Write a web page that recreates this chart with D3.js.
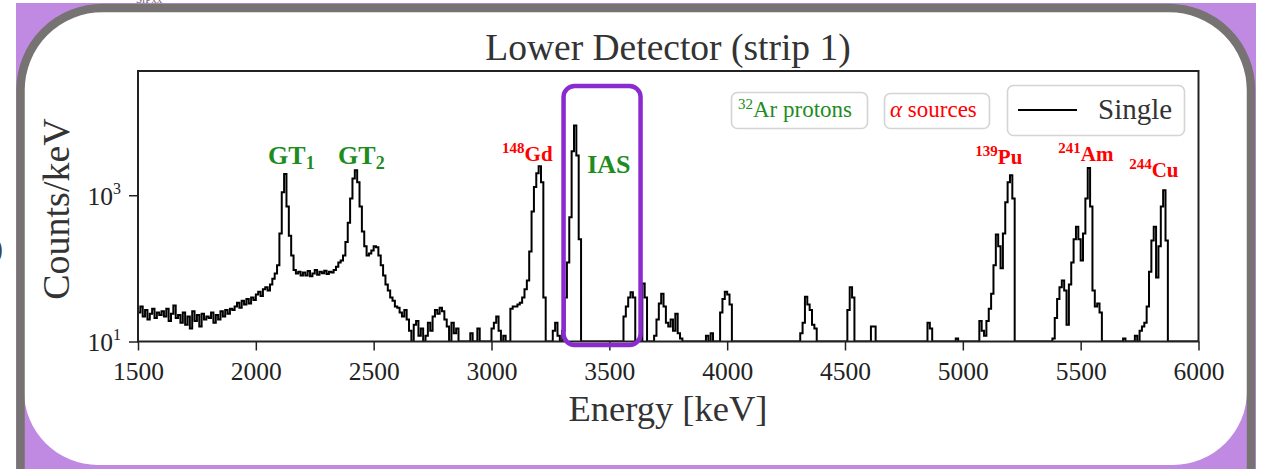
<!DOCTYPE html>
<html><head><meta charset="utf-8">
<script src="https://cdn.jsdelivr.net/npm/d3@7"></script>
<style>
html,body{margin:0;padding:0;background:#fff;overflow:hidden}
svg{display:block}
text{font-family:"Liberation Serif","Times New Roman",serif}
</style></head><body>
<svg id="chart" width="1263" height="469"></svg>
<script>
// ---------------- data ----------------
const binStart = 1500;   // keV, first bin edge
const binWidth = 10;     // keV
// counts per keV, one value per 10 keV bin (rows of 100 keV); values under 10 are 0
const counts = [
  25, 30, 22, 27, 20, 24, 28, 21, 25, 23,     // 1500
  26, 22, 28, 19, 24, 31, 21, 23, 18, 25,     // 1600
  17, 22, 15, 26, 19, 23, 16, 24, 20, 22,     // 1700
  21, 25, 18, 23, 20, 26, 22, 27, 24, 28,     // 1800
  27, 30, 34, 29, 36, 32, 38, 33, 40, 37,     // 1900
  44, 48, 42, 52, 55, 50, 60, 72, 85, 110,    // 2000
  300, 1100, 1950, 700, 280, 150, 95, 85, 90, 80, // 2100
  88, 80, 92, 78, 85, 95, 82, 90, 86, 93,     // 2200
  84, 90, 88, 95, 105, 120, 128, 150, 230, 420, // 2300
  900, 1700, 2200, 1500, 700, 320, 200, 150, 160, 175, // 2400
  200, 195, 150, 110, 80, 60, 50, 40, 36, 30, // 2500
  29, 25, 22, 27, 20, 14, 0, 17, 19, 12,      // 2600
  15, 0, 12, 18, 14, 22, 27, 24, 29, 26,      // 2700
  20, 16, 0, 18, 13, 15, 0, 0, 0, 0,          // 2800
  0, 13, 0, 0, 15, 0, 0, 0, 0, 0,             // 2900
  15, 18, 22, 14, 0, 12, 0, 0, 28, 30,        // 3000
  30, 32, 34, 40, 52, 68, 170, 600, 1300, 2000, // 3100
  2500, 1500, 40, 0, 0, 0, 14, 18, 12, 0,     // 3200
  14, 40, 120, 500, 4000, 9000, 3500, 250, 0, 0, // 3300
  0, 0, 0, 0, 0, 0, 0, 0, 0, 0,               // 3400
  0, 0, 0, 0, 0, 0, 22, 30, 40, 47,           // 3500
  40, 0, 0, 0, 62, 40, 0, 0, 0, 12,           // 3600
  20, 33, 45, 30, 18, 16, 20, 14, 24, 13,     // 3700
  11, 0, 0, 0, 0, 0, 0, 0, 0, 0,              // 3800
  0, 12, 0, 13, 0, 0, 0, 25, 38, 48,          // 3900
  44, 32, 0, 0, 0, 0, 0, 0, 0, 0,             // 4000
  0, 0, 0, 0, 0, 0, 0, 0, 0, 0,               // 4100
  0, 0, 0, 0, 0, 0, 0, 0, 0, 0,               // 4200
  0, 13, 18, 41, 32, 27, 17, 15, 0, 0,        // 4300
  0, 0, 0, 0, 0, 0, 0, 0, 0, 0,               // 4400
  0, 27, 55, 40, 0, 0, 0, 0, 0, 0,            // 4500
  0, 16, 16, 0, 0, 0, 0, 0, 0, 0,             // 4600
  0, 0, 0, 0, 0, 0, 0, 0, 0, 0,               // 4700
  0, 0, 0, 0, 0, 18, 15, 0, 0, 0,             // 4800
  0, 0, 0, 0, 0, 0, 0, 11, 0, 0,              // 4900
  0, 0, 0, 0, 0, 0, 0, 19, 14, 12,            // 5000
  19, 28, 45, 110, 290, 200, 100, 300, 800, 1500, // 5100
  1870, 900, 0, 0, 0, 0, 0, 0, 0, 0,          // 5200
  0, 0, 0, 0, 0, 0, 0, 0, 11, 21,             // 5300
  38, 55, 68, 50, 17, 60, 120, 250, 370, 250, // 5400
  128, 300, 900, 2350, 700, 50, 30, 33, 25, 0, // 5500
  0, 0, 0, 0, 0, 0, 0, 0, 11, 0,              // 5600
  0, 0, 0, 12, 0, 14, 16, 18, 30, 90,         // 5700
  240, 370, 75, 200, 700, 1170, 240, 0, 0, 0, // 5800
  0, 0, 0, 0, 0, 0, 0, 0, 0, 0                // 5900
];
const xTicks = [1500, 2000, 2500, 3000, 3500, 4000, 4500, 5000, 5500, 6000];
const yTicks = [10, 1000];
const yTickExponents = ["1", "3"];
const xDomain = [1500, 6000];
const yDomain = [10, 50000];

const titleText = "Lower Detector (strip 1)";
const xLabel = "Energy [keV]";
const yLabel = "Counts/keV";
const seriesName = "Single";

// peak annotations
const peakNames  = ["GT", "GT", "Gd", "IAS", "Pu", "Am", "Cu"];
const peakSup    = ["", "", "148", "", "139", "241", "244"];
const peakSub    = ["1", "2", "", "", "", "", ""];
const peakKind   = ["p", "p", "a", "p", "a", "a", "a"];   // p = 32Ar protons, a = alpha sources
const peakLabelE = [2052, 2349, 3045, 3406, 5053, 5405, 5706];
const peakLabelC = [2659, 2659, 2924, 2000, 2659, 2924, 1766];

// ---------------- drawing ----------------
const svg = d3.select("#chart");
const W = 1263, H = 469;
const green = "#1e8c1e", red = "#ff0000";

// frame / slide background
svg.append("rect").attr("x", 0).attr("y", 0).attr("width", W).attr("height", H).attr("fill", "#fff");
svg.append("text").attr("x", 136).attr("y", 3).attr("font-size", 11).attr("fill", "#666").text("SiPxx");
svg.append("text").attr("x", -7).attr("y", 258).attr("font-size", 30).attr("fill", "#444").text(")");
svg.append("rect").attr("x", 16).attr("y", 3).attr("width", 1240).attr("height", 466).attr("fill", "#c08ae3");
// white interior
(function(){
  const l = 24, r = 1247, t = 8, b = 465, rt = 80, rb = 74;
  const p = `M${l},${t+rt} A${rt},${rt} 0 0 1 ${l+rt},${t} H${r-rt} A${rt},${rt} 0 0 1 ${r},${t+rt} V${b-rb} A${rb},${rb} 0 0 1 ${r-rb},${b} H${l+rb} A${rb},${rb} 0 0 1 ${l},${b-rb} Z`;
  svg.append("path").attr("d", p).attr("fill", "#fff");
  const g = `M20.5,${H+2} V90 A82,82 0 0 1 102.5,8 H1169 A82,82 0 0 1 1251,90 V${H+2}`;
  svg.append("path").attr("d", g).attr("fill", "none").attr("stroke", "#777373").attr("stroke-width", 8.5);
})();

const m = {l: 138, r: 1198.5, t: 71, b: 341.5};
const x = d3.scaleLinear().domain(xDomain).range([m.l, m.r]);
const y = d3.scaleLog().domain(yDomain).range([m.b, m.t]);

svg.append("clipPath").attr("id", "clip").append("rect")
  .attr("x", m.l).attr("y", m.t).attr("width", m.r - m.l).attr("height", m.b - m.t);

// histogram step line
const pts = counts.map((c, i) => [binStart + i * binWidth, c]);
pts.push([binStart + counts.length * binWidth, counts[counts.length - 1]]);
const line = d3.line()
  .x(d => x(d[0]))
  .y(d => y(Math.max(d[1], yDomain[0])))
  .curve(d3.curveStepAfter);
svg.append("path").datum(pts).attr("clip-path", "url(#clip)")
  .attr("d", line).attr("fill", "none").attr("stroke", "#000").attr("stroke-width", 2)
  .attr("stroke-linejoin", "miter");

// axes
const xAxis = svg.append("g").attr("transform", `translate(0,${m.b})`)
  .call(d3.axisBottom(x).tickValues(xTicks).tickSize(9).tickSizeOuter(0).tickFormat(d3.format("d")));
xAxis.select(".domain").remove();
xAxis.selectAll(".tick line").attr("stroke", "#222").attr("stroke-width", 1.5);
xAxis.selectAll(".tick text").attr("font-size", 25.5).attr("fill", "#222").attr("dy", "1.05em")
  .attr("font-family", "Liberation Serif");

const yAxis = svg.append("g").attr("transform", `translate(${m.l},0)`)
  .call(d3.axisLeft(y).tickValues(yTicks).tickSize(9).tickSizeOuter(0).tickFormat(() => ""));
yAxis.select(".domain").remove();
yAxis.selectAll(".tick line").attr("stroke", "#222").attr("stroke-width", 1.5);
yAxis.selectAll(".tick").each(function(d, i) {
  const t = d3.select(this).append("text").attr("x", -17).attr("y", 9).attr("text-anchor", "end")
    .attr("font-size", 25.5).attr("fill", "#222").attr("font-family", "Liberation Serif");
  t.append("tspan").text("10");
  t.append("tspan").attr("font-size", 16).attr("dy", -11).text(yTickExponents[i]);
});

// plot frame
svg.append("rect").attr("x", m.l).attr("y", m.t).attr("width", m.r - m.l).attr("height", m.b - m.t)
  .attr("fill", "none").attr("stroke", "#222").attr("stroke-width", 2);

// title and axis labels
svg.append("text").attr("x", 668).attr("y", 60).attr("text-anchor", "middle")
  .attr("font-size", 37.5).attr("fill", "#333").text(titleText);
svg.append("text").attr("x", 668).attr("y", 421).attr("text-anchor", "middle")
  .attr("font-size", 36.5).attr("fill", "#333").text(xLabel);
svg.append("text").attr("transform", "translate(69,209) rotate(-90)").attr("text-anchor", "middle")
  .attr("font-size", 38).attr("fill", "#333").text(yLabel);

// peak labels
peakNames.forEach((nm, i) => {
  const col = peakKind[i] === "p" ? green : red;
  const big = peakKind[i] === "p" ? 26 : 21;
  const t = svg.append("text").attr("x", x(peakLabelE[i])).attr("y", y(peakLabelC[i]))
    .attr("font-weight", "bold").attr("fill", col).attr("font-size", big);
  if (peakSup[i]) {
    t.append("tspan").attr("font-size", 15).attr("dy", -8).text(peakSup[i]);
    t.append("tspan").attr("dy", 8).text(nm);
  } else {
    t.append("tspan").text(nm);
  }
  if (peakSub[i]) t.append("tspan").attr("font-size", 18).attr("dy", 5).text(peakSub[i]);
});

// legend-like boxes
function box(x0, y0, w, h) {
  svg.append("rect").attr("x", x0).attr("y", y0).attr("width", w).attr("height", h).attr("rx", 6)
    .attr("fill", "#fff").attr("fill-opacity", 0.8).attr("stroke", "#d4d4d4").attr("stroke-width", 1.6);
}
box(731.5, 92.5, 136, 36);
const t1 = svg.append("text").attr("x", 738).attr("y", 117).attr("font-size", 23).attr("fill", green);
t1.append("tspan").attr("font-size", 15).attr("dy", -8).text("32");
t1.append("tspan").attr("dy", 8).text("Ar protons");
box(884.5, 93.5, 105, 35);
const t2 = svg.append("text").attr("x", 890).attr("y", 117).attr("font-size", 23).attr("fill", red);
t2.append("tspan").attr("font-style", "italic").text("α");
t2.append("tspan").text(" sources");
box(1007.5, 85.5, 177, 50);
svg.append("line").attr("x1", 1018).attr("x2", 1077).attr("y1", 110).attr("y2", 110)
  .attr("stroke", "#000").attr("stroke-width", 2);
svg.append("text").attr("x", 1098).attr("y", 119).attr("font-size", 29).attr("fill", "#333").text(seriesName);

// IAS highlight box
svg.append("rect").attr("x", x(3380) - 17.5).attr("y", 86).attr("width", 77).attr("height", 259).attr("rx", 11)
  .attr("fill", "none").attr("stroke", "#8a2bd0").attr("stroke-width", 4.5);
</script></body></html>
